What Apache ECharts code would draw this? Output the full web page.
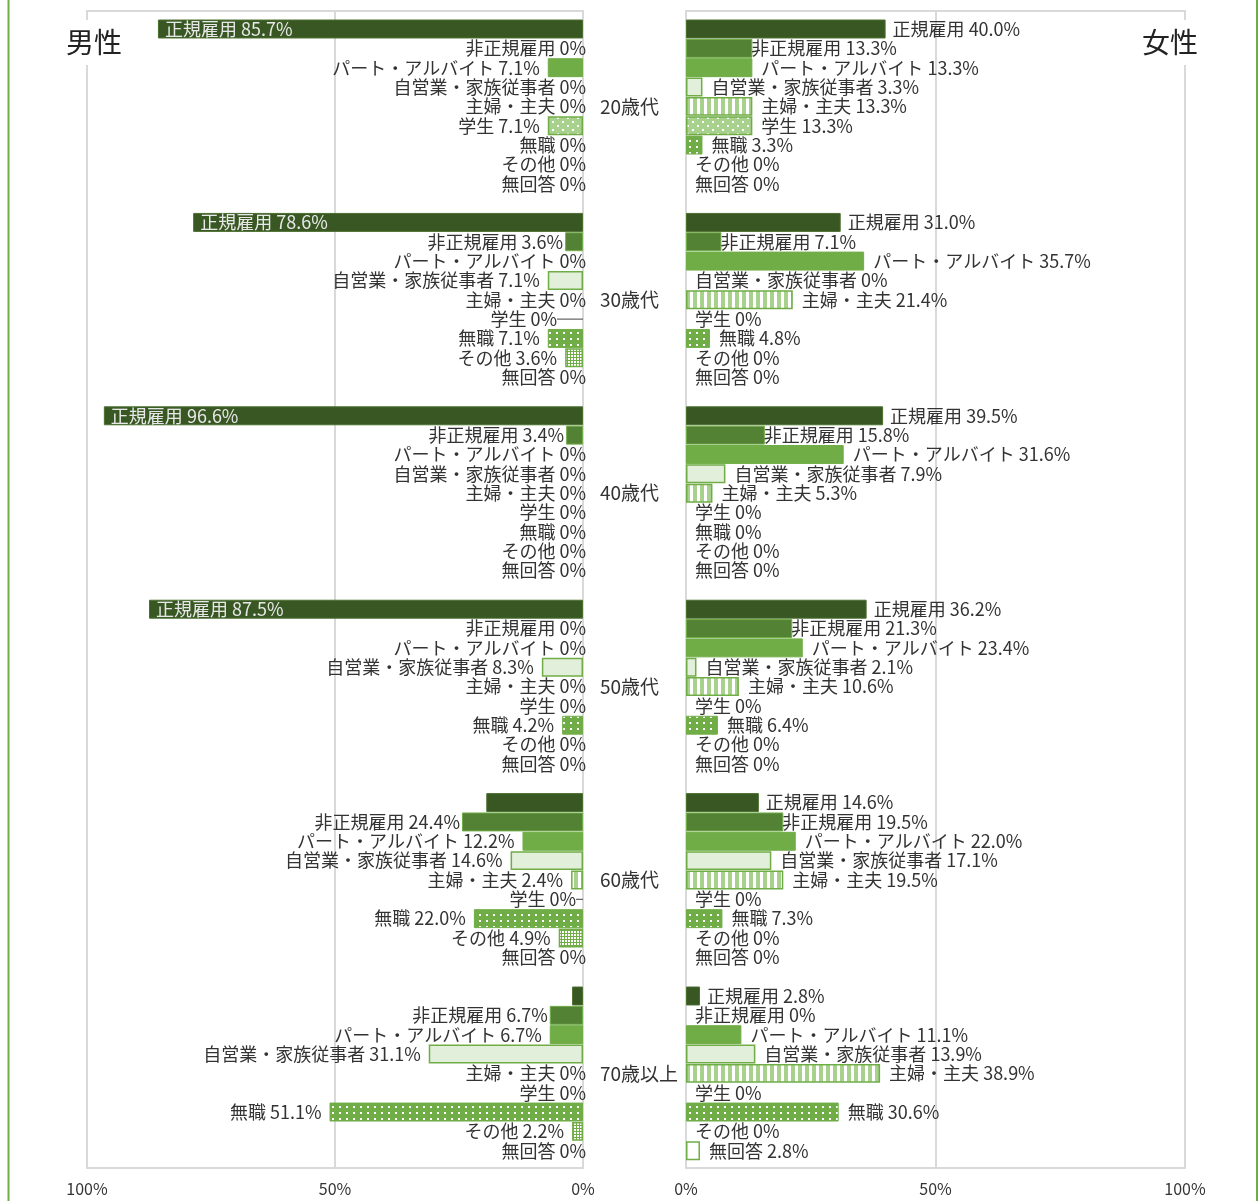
<!DOCTYPE html>
<html><head><meta charset="utf-8">
<script src="https://cdn.jsdelivr.net/npm/echarts@6/dist/echarts.min.js"></script>
<style>html,body{margin:0;padding:0;background:#fff}#c{width:1260px;height:1201px}</style>
</head><body><div id="c"></div>
<script>
const types = ['正規雇用','非正規雇用','パート・アルバイト','自営業・家族従事者','主婦・主夫','学生','無職','その他','無回答'];
const ageGroups = ['20歳代','30歳代','40歳代','50歳代','60歳代','70歳以上'];
// 男性
const male20 = [85.7, 0, 7.1, 0, 0, 7.1, 0, 0, 0];
const male30 = [78.6, 3.6, 0, 7.1, 0, 0, 7.1, 3.6, 0];
const male40 = [96.6, 3.4, 0, 0, 0, 0, 0, 0, 0];
const male50 = [87.5, 0, 0, 8.3, 0, 0, 4.2, 0, 0];
const male60 = [19.5, 24.4, 12.2, 14.6, 2.4, 0, 22.0, 4.9, 0];
const male70 = [2.2, 6.7, 6.7, 31.1, 0, 0, 51.1, 2.2, 0];
// 女性
const female20 = [40.0, 13.3, 13.3, 3.3, 13.3, 13.3, 3.3, 0, 0];
const female30 = [31.0, 7.1, 35.7, 0, 21.4, 0, 4.8, 0, 0];
const female40 = [39.5, 15.8, 31.6, 7.9, 5.3, 0, 0, 0, 0];
const female50 = [36.2, 21.3, 23.4, 2.1, 10.6, 0, 6.4, 0, 0];
const female60 = [14.6, 19.5, 22.0, 17.1, 19.5, 0, 7.3, 0, 0];
const female70 = [2.8, 0, 11.1, 13.9, 38.9, 0, 30.6, 0, 2.8];
const xTicks = [0, 50, 100];

const maleValues = [male20, male30, male40, male50, male60, male70];
const femaleValues = [female20, female30, female40, female50, female60, female70];

// rows: 9 per group, one blank row between groups
const rowNames = [];
ageGroups.forEach((a, g) => {
  types.forEach(t => rowNames.push(a + '|' + t));
  if (g < ageGroups.length - 1) rowNames.push('gap' + g);
});
const rowIndex = (g, t) => g * (types.length + 1) + t;

function pat(w, h, draw) {
  const c = document.createElement('canvas');
  c.width = w; c.height = h;
  const x = c.getContext('2d');
  draw(x);
  return { image: c, repeat: 'repeat' };
}
const G = '#70AD47';
const stripePat = pat(7, 7, x => { x.fillStyle = '#fff'; x.fillRect(0, 0, 7, 7); x.fillStyle = '#A9D18E'; x.fillRect(0, 0, 4, 7); });
const studentPat = pat(10, 8, x => { x.fillStyle = '#A9D18E'; x.fillRect(0, 0, 10, 8); x.fillStyle = '#fff'; x.fillRect(2, 1, 2, 2); x.fillRect(7, 5, 2, 2); });
const jobless = pat(7, 6, x => { x.fillStyle = G; x.fillRect(0, 0, 7, 6); x.fillStyle = '#fff'; x.fillRect(3, 2, 2, 2); });
const otherPat = pat(3, 3, x => { x.fillStyle = G; x.fillRect(0, 0, 3, 3); x.fillStyle = '#fff'; x.fillRect(1, 1, 2, 2); });

const styles = [
  { color: '#385723', borderColor: '#4a6f2e', borderWidth: 1 },
  { color: '#548235', borderColor: G, borderWidth: 1 },
  { color: G, borderColor: G, borderWidth: 1 },
  { color: '#E2EFDA', borderColor: G, borderWidth: 1.5 },
  { color: stripePat, borderColor: G, borderWidth: 1.5 },
  { color: studentPat, borderColor: G, borderWidth: 1.5 },
  { color: jobless, borderColor: G, borderWidth: 1 },
  { color: otherPat, borderColor: G, borderWidth: 1.5 },
  { color: '#ffffff', borderColor: G, borderWidth: 1.5 }
];
const fmt = v => v === 0 ? '0%' : v.toFixed(1) + '%';
const FONT = '"Noto Sans CJK JP", "Noto Sans", sans-serif';
const TXT = '#333';

const leftDist = [8, 2, 8, 8, 8, 8, 8, 8, 8];
const rightDist = [7, -1, 9, 9, 9, 9, 9, 9, 9];

function buildSeries(side, values, xi, yi) {
  const isLeft = side === 'm';
  return types.map((name, t) => {
    const data = rowNames.map(() => '-');
    values.forEach((arr, g) => {
      const v = arr[t];
      const item = { value: v };
      if (v === 0) {
        item.itemStyle = { borderWidth: 0 };
        item.label = { distance: isLeft ? -3 : 9 };
      }
      // leader line for male 学生 0% in 30s / 60s
      if (isLeft && t === 5 && (g === 1 || g === 4)) {
        item.label = { distance: 0, formatter: '{t|' + name + ' 0%}{l|}', rich: { t: { fontSize: 18, fontFamily: FONT, color: TXT }, l: { width: g === 1 ? 26 : 7, height: 1, backgroundColor: '#444', verticalAlign: 'middle' } } };
      }
      // male regular: label hidden for 60s / 70s
      if (isLeft && t === 0 && (g === 4 || g === 5)) item.label = { show: false };
      data[rowIndex(g, t)] = item;
    });
    let label;
    if (isLeft && t === 0) {
      label = { show: true, position: 'insideLeft', distance: 7, color: '#e8e8e8', fontSize: 18, fontFamily: FONT, formatter: p => name + ' ' + fmt(p.value) };
    } else {
      label = { show: true, position: isLeft ? 'left' : 'right', distance: isLeft ? leftDist[t] : rightDist[t], color: TXT, fontSize: 18, fontFamily: FONT, formatter: p => name + ' ' + fmt(p.value) };
    }
    return {
      type: 'bar', name: side + name, xAxisIndex: xi, yAxisIndex: yi, stack: side,
      barCategoryGap: '2%', data, itemStyle: styles[t], label, animation: false
    };
  });
}

const top0 = 11, frameH = 1157;
const rowH = 19.34;
const dataTop = 29 - rowH / 2;
const dataH = rowH * rowNames.length;

const chart = echarts.init(document.getElementById('c'), null, { renderer: 'canvas' });
const frameAxisX = (gi, inv) => ({
  gridIndex: gi, type: 'value', min: 0, max: 100, interval: 50, inverse: inv,
  axisLine: { show: false }, axisTick: { show: false },
  splitLine: { show: true, lineStyle: { color: '#d9d9d9', width: 2 } },
  axisLabel: { formatter: v => xTicks.includes(v) ? v + '%' : '', fontSize: 16, color: TXT, margin: 13, fontFamily: FONT }
});
chart.setOption({
  backgroundColor: '#fff',
  animation: false,
  textStyle: { fontFamily: FONT },
  title: [
    { text: '男性', left: 62, top: 20, padding: [8, 4, 9, 4], backgroundColor: '#fff', textStyle: { fontSize: 28, fontWeight: 'normal', color: '#222', fontFamily: FONT } },
    { text: '女性', right: 58, top: 20, padding: [8, 4, 9, 4], backgroundColor: '#fff', textStyle: { fontSize: 28, fontWeight: 'normal', color: '#222', fontFamily: FONT } }
  ],
  graphic: [
    { type: 'line', shape: { x1: 8.5, y1: 0, x2: 8.5, y2: 1201 }, style: { stroke: G, lineWidth: 2 }, z: 10 },
    { type: 'line', shape: { x1: 1257, y1: 0, x2: 1257, y2: 1201 }, style: { stroke: G, lineWidth: 2 }, z: 10 }
  ],
  grid: [
    { left: 87, width: 496, top: top0, height: frameH, show: true, borderColor: '#d9d9d9', borderWidth: 2 },
    { left: 87, width: 496, top: dataTop, height: dataH },
    { left: 686, width: 499, top: top0, height: frameH, show: true, borderColor: '#d9d9d9', borderWidth: 2 },
    { left: 686, width: 499, top: dataTop, height: dataH }
  ],
  xAxis: [
    frameAxisX(0, true),
    { gridIndex: 1, type: 'value', min: 0, max: 100, inverse: true, show: false },
    frameAxisX(2, false),
    { gridIndex: 3, type: 'value', min: 0, max: 100, show: false }
  ],
  yAxis: [
    { gridIndex: 0, type: 'category', data: [''], show: false },
    {
      gridIndex: 1, type: 'category', data: rowNames, inverse: true, position: 'right',
      axisLine: { show: false }, axisTick: { show: false },
      axisLabel: {
        interval: 0, margin: 17, fontSize: 19, color: TXT, fontFamily: FONT,
        formatter: (val, idx) => (idx % (types.length + 1) === 4) ? ageGroups[Math.floor(idx / (types.length + 1))] : ''
      }
    },
    { gridIndex: 2, type: 'category', data: [''], show: false },
    { gridIndex: 3, type: 'category', data: rowNames, inverse: true, show: false }
  ],
  series: [
    ...buildSeries('m', maleValues, 1, 1),
    ...buildSeries('f', femaleValues, 3, 3)
  ]
});
</script>
</body></html>
